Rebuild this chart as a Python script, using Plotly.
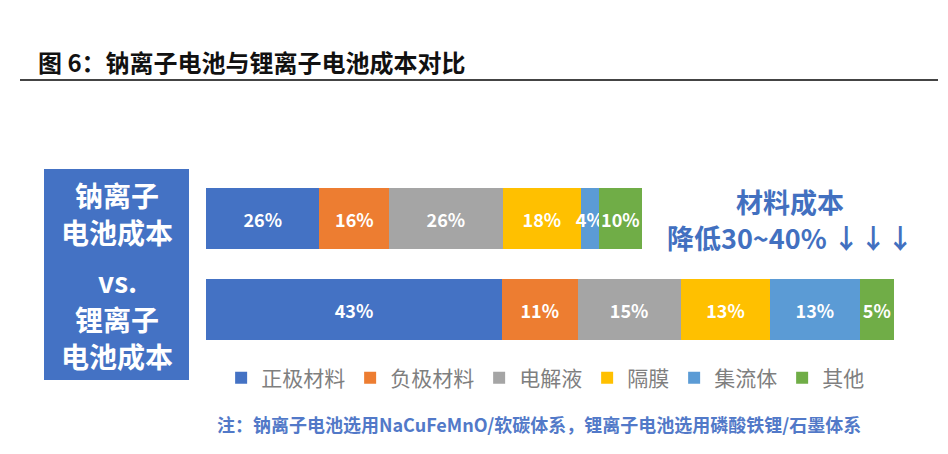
import plotly.graph_objects as go

# ---------- 数据 ----------
COMPONENTS = ["正极材料", "负极材料", "电解液", "隔膜", "集流体", "其他"]
COLORS = ["#4472C4", "#ED7D31", "#A5A5A5", "#FFC000", "#5B9BD5", "#70AD47"]

BATTERIES = ["钠离子电池", "锂离子电池"]
NA_SHARE = [26, 16, 26, 18, 4, 10]      # 钠离子电池 成本构成 %
LI_SHARE = [43, 11, 15, 13, 13, 5]      # 锂离子电池 成本构成 %
TOTAL_COST = [63.4, 100]                # 相对总成本 (锂离子 = 100)，按条长读取

TITLE = "图 6：钠离子电池与锂离子电池成本对比"
NOTE = "注：钠离子电池选用NaCuFeMnO/软碳体系，锂离子电池选用磷酸铁锂/石墨体系"

FONT = "Noto Sans CJK SC, Noto Sans, sans-serif"
BLUE = "#4472C4"

# ---------- 画布 / 坐标换算 ----------
W, H = 948, 454
OFF = 8                       # 页面 body 边距
L, R, T, B = 198, 62, 165, 107
PW, PH = W - L - R, H - T - B


def px(x):
    """屏幕像素 x → paper 坐标"""
    return (x - OFF - L) / PW


def py(y):
    """屏幕像素 y → paper 坐标"""
    return (H - B - (y - OFF)) / PH


# ---------- Figure ----------
fig = go.Figure()
for i, name in enumerate(COMPONENTS):
    shares = [NA_SHARE[i], LI_SHARE[i]]
    fig.add_trace(go.Bar(
        y=BATTERIES,
        x=[s / 100 * t for s, t in zip(shares, TOTAL_COST)],
        orientation="h",
        name=name,
        marker=dict(color=COLORS[i], line_width=0),
        text=[f"{s}%" for s in shares],
        texttemplate="<b>%{text}</b>",
        textposition="inside",
        insidetextanchor="middle",
        textangle=0,
        textfont=dict(family=FONT, size=18, color="#ffffff"),
        hovertemplate="%{text}<extra>" + name + "</extra>",
    ))

fig.update_layout(
    width=W, height=H,
    barmode="stack",
    bargap=0.34,
    uniformtext=dict(minsize=18, mode="show"),
    paper_bgcolor="#ffffff",
    plot_bgcolor="#ffffff",
    font=dict(family=FONT, size=14, color="#333333"),
    margin=dict(l=L, r=R, t=T, b=B),
    showlegend=True,
    legend=dict(
        orientation="h",
        x=0.022, xanchor="left",
        y=py(378), yanchor="middle",
        font=dict(family=FONT, size=21, color="#7f7f7f"),
        traceorder="normal",
        itemclick=False,
    ),
)
fig.update_xaxes(range=[0, 100], visible=False, fixedrange=True)
fig.update_yaxes(
    categoryorder="array", categoryarray=BATTERIES[::-1],
    range=[-0.5, 1.5], visible=False, fixedrange=True,
)

# 标题 + 分隔线
fig.add_annotation(
    text=f"<b>{TITLE}</b>", xref="paper", yref="paper",
    x=px(36), y=py(62), xanchor="left", yanchor="middle",
    showarrow=False, font=dict(family=FONT, size=24, color="#111111"),
)
fig.add_shape(
    type="line", xref="paper", yref="paper",
    x0=px(20), x1=px(938), y0=py(80), y1=py(80),
    line=dict(color="#444444", width=2),
)

# 左侧蓝框
fig.add_shape(
    type="rect", xref="paper", yref="paper",
    x0=px(44), x1=px(189), y0=py(380), y1=py(169),
    fillcolor=BLUE, line_width=0, layer="below",
)
for txt, y in [("钠离子", 195), ("电池成本", 232), ("vs.", 281),
               ("锂离子", 319), ("电池成本", 356)]:
    fig.add_annotation(
        text=f"<b>{txt}</b>", xref="paper", yref="paper",
        x=px(117), y=py(y), xanchor="center", yanchor="middle",
        showarrow=False, font=dict(family=FONT, size=28, color="#ffffff"),
    )

# 右侧说明
for txt, y in [("材料成本", 201), ("降低30~40% ↓↓↓", 237)]:
    fig.add_annotation(
        text=f"<b>{txt}</b>", xref="paper", yref="paper",
        x=px(790), y=py(y), xanchor="center", yanchor="middle",
        showarrow=False, font=dict(family=FONT, size=27, color="#4270C0"),
    )

# 注释
fig.add_annotation(
    text=f"<b>{NOTE}</b>", xref="paper", yref="paper",
    x=px(215), y=py(424), xanchor="left", yanchor="middle",
    showarrow=False, font=dict(family=FONT, size=18, color="#5279C8"),
)

fig.write_html("out.html")
